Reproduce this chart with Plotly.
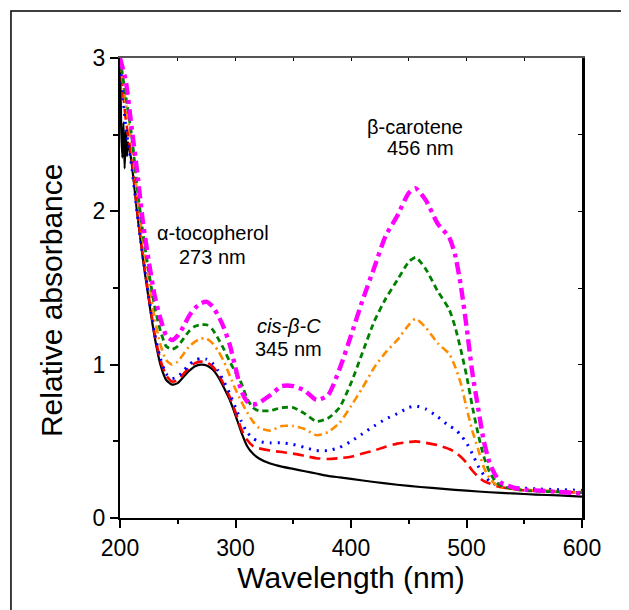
import plotly.graph_objects as go

# ---- data ----
wl_black = [200, 201, 202, 203, 204, 205, 206, 207, 210, 215, 220, 225, 230, 235, 240, 245, 250, 255,
            260, 265, 270, 275, 280, 285, 290, 295, 300, 305, 310, 315, 320, 330, 340, 350, 360,
            370, 380, 390, 400, 420, 440, 460, 480, 500, 520, 540, 560, 580, 600]
abs_black = [3.0, 2.55, 2.35, 2.58, 2.28, 2.52, 2.36, 2.45, 2.32, 1.98, 1.68, 1.42, 1.18, 1.0, 0.9, 0.87,
             0.88, 0.92, 0.96, 0.99, 1.0, 0.995, 0.97, 0.92, 0.85, 0.77, 0.67, 0.56, 0.47, 0.42,
             0.39, 0.355, 0.335, 0.32, 0.305, 0.29, 0.275, 0.265, 0.255, 0.235, 0.217, 0.202,
             0.19, 0.178, 0.168, 0.16, 0.153, 0.147, 0.14]

wl = [200, 205, 210, 215, 220, 225, 230, 235, 240, 245, 250, 255, 260, 265, 270, 275, 280, 285,
      290, 295, 300, 305, 310, 315, 320, 330, 340, 350, 360, 370, 380, 390, 400, 410, 420, 430,
      440, 450, 456, 465, 475, 485, 490, 495, 500, 505, 510, 515, 520, 525, 530, 540, 550, 560,
      580, 600]

abs_red = [3.0, 2.6, 2.35, 2.0, 1.7, 1.44, 1.2, 1.03, 0.93, 0.89, 0.9, 0.94, 0.98, 1.01, 1.02,
           1.015, 0.99, 0.94, 0.87, 0.79, 0.69, 0.58, 0.51, 0.47, 0.455, 0.44, 0.43, 0.42, 0.405,
           0.39, 0.385, 0.39, 0.4, 0.42, 0.44, 0.465, 0.485, 0.495, 0.5, 0.49, 0.475, 0.45, 0.43,
           0.4, 0.36, 0.31, 0.27, 0.24, 0.225, 0.21, 0.2, 0.19, 0.18, 0.178, 0.172, 0.165]

abs_blue = [3.0, 2.55, 2.3, 1.98, 1.7, 1.44, 1.2, 1.04, 0.94, 0.91, 0.92, 0.96, 1.0, 1.03, 1.04,
            1.035, 1.01, 0.96, 0.89, 0.81, 0.72, 0.63, 0.56, 0.52, 0.5, 0.49, 0.49, 0.48, 0.46,
            0.44, 0.44, 0.46, 0.5, 0.55, 0.6, 0.645, 0.68, 0.72, 0.73, 0.71, 0.66, 0.6, 0.58,
            0.54, 0.49, 0.42, 0.34, 0.28, 0.24, 0.22, 0.21, 0.2, 0.195, 0.19, 0.185, 0.18]

abs_orange = [3.0, 2.7, 2.45, 2.1, 1.8, 1.55, 1.3, 1.13, 1.03, 1.0, 1.02, 1.07, 1.12, 1.15, 1.17,
              1.17, 1.14, 1.09, 1.02, 0.93, 0.84, 0.76, 0.69, 0.63, 0.59, 0.57, 0.6, 0.6, 0.58,
              0.54, 0.56, 0.62, 0.73, 0.85, 0.98, 1.08, 1.16, 1.26, 1.3, 1.24, 1.14, 1.07, 0.99,
              0.88, 0.72, 0.57, 0.45, 0.33, 0.26, 0.22, 0.2, 0.19, 0.185, 0.18, 0.175, 0.17]

abs_green = [3.0, 2.75, 2.5, 2.15, 1.85, 1.6, 1.38, 1.22, 1.12, 1.1, 1.12, 1.17, 1.22, 1.25, 1.26,
             1.26, 1.23, 1.17, 1.1, 1.02, 0.95, 0.88, 0.78, 0.72, 0.7, 0.7, 0.72, 0.72, 0.68,
             0.63, 0.65, 0.72, 0.88, 1.08, 1.28, 1.43, 1.55, 1.67, 1.7, 1.62, 1.48, 1.36, 1.25,
             1.1, 0.93, 0.73, 0.55, 0.4, 0.3, 0.24, 0.21, 0.19, 0.18, 0.175, 0.17, 0.165]

abs_magenta = [3.0, 2.85, 2.55, 2.25, 1.92, 1.67, 1.45, 1.3, 1.19, 1.16, 1.19, 1.25, 1.32, 1.37,
               1.4, 1.41, 1.38, 1.32, 1.24, 1.13, 0.98, 0.83, 0.76, 0.74, 0.75, 0.8, 0.86, 0.86,
               0.83, 0.77, 0.8, 0.97, 1.19, 1.42, 1.63, 1.84, 1.97, 2.12, 2.15, 2.07, 1.92, 1.83,
               1.72, 1.52, 1.25, 0.95, 0.72, 0.5, 0.36, 0.28, 0.23, 0.2, 0.185, 0.18, 0.17, 0.16]

label_text = ["β-carotene", "456 nm", "α-tocopherol", "273 nm", "<i>cis-β-C</i>", "345 nm"]
label_x = [455.4, 460.6, 280.5, 280.5, 346.3, 346.3]
label_y = [2.55, 2.41, 1.86, 1.70, 1.25, 1.10]

x_ticks = [200, 300, 400, 500, 600]
y_ticks = [0, 1, 2, 3]

FONT = "Liberation Sans, Arial, sans-serif"

fig = go.Figure()

series = [
    (wl_black, abs_black, "black", "solid", 2.2),
    (wl, abs_red, "#ff0000", "11px,6px", 2.6),
    (wl, abs_blue, "#0000ff", "2px,6px", 3),
    (wl, abs_orange, "#ff8c00", "8px,4px,2px,4px", 2.6),
    (wl, abs_green, "#008000", "6px,4px", 2.8),
    (wl, abs_magenta, "#ff00ff", "12px,5px,4px,5px", 4.4),
]
for xs, ys, color, dash, width in series:
    fig.add_trace(go.Scatter(x=xs, y=ys, mode="lines",
                             line=dict(color=color, dash=dash, width=width, shape="spline",
                                       smoothing=0.6),
                             showlegend=False, hoverinfo="skip"))

# invisible trace for mirrored inside-tick axes
fig.add_trace(go.Scatter(x=[200, 600], y=[0, 3], xaxis="x2", yaxis="y2", mode="markers",
                         marker=dict(opacity=0), showlegend=False, hoverinfo="skip"))

for t, x, y in zip(label_text, label_x, label_y):
    fig.add_annotation(x=x, y=y, text=t, showarrow=False, xref="x", yref="y",
                       font=dict(family=FONT, size=20, color="black"))

# y-axis title
fig.add_annotation(x=-0.147, y=0.474, xref="paper", yref="paper", text="Relative absorbance",
                   textangle=-90, showarrow=False, xanchor="center", yanchor="middle",
                   font=dict(family=FONT, size=30, color="black"))

fig.add_shape(type="rect", xref="paper", yref="paper", x0=-0.236, y0=-0.25, x1=1.2, y1=1.102,
              line=dict(color="black", width=1.5), layer="below")

fig.update_layout(
    width=629, height=610,
    margin=dict(l=112, r=55, t=50, b=100),
    paper_bgcolor="white", plot_bgcolor="white",
    font=dict(family=FONT, color="black"),
    xaxis=dict(range=[200, 600], tickvals=x_ticks, ticks="outside", ticklen=8, tickwidth=2,
               tickcolor="black", showline=True, linecolor="black", linewidth=2,
               showgrid=False, zeroline=False, tickfont=dict(size=23),
               minor=dict(dtick=50, tick0=200, ticks="outside", ticklen=4, tickwidth=1.5,
                          tickcolor="black", showgrid=False),
               title=dict(text="Wavelength (nm)", font=dict(size=30), standoff=6)),
    yaxis=dict(range=[0, 3], tickvals=y_ticks, ticks="outside", ticklen=8, tickwidth=2,
               tickcolor="black", showline=True, linecolor="black", linewidth=2,
               showgrid=False, zeroline=False, tickfont=dict(size=23),
               minor=dict(dtick=0.5, tick0=0, ticks="outside", ticklen=5, tickwidth=1.5,
                          tickcolor="black", showgrid=False)),
    xaxis2=dict(range=[200, 600], overlaying="x", side="top", showline=True,
                linecolor="#555555", linewidth=2, ticks="inside", ticklen=3, tickwidth=1,
                tickcolor="black", dtick=50, tick0=200, showticklabels=False,
                showgrid=False, zeroline=False),
    yaxis2=dict(range=[0, 3], overlaying="y", side="right", showline=True,
                linecolor="black", linewidth=2.5, ticks="inside", ticklen=4, tickwidth=1,
                tickcolor="black", dtick=0.5, tick0=0, showticklabels=False,
                showgrid=False, zeroline=False),
)

fig.write_html("out.html")
